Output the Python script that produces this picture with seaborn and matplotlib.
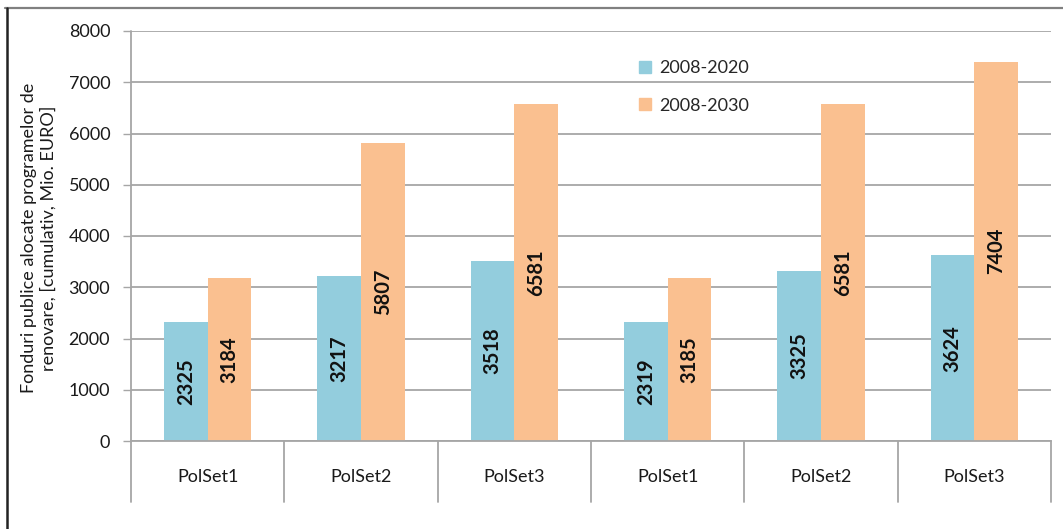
import matplotlib
matplotlib.use("Agg")
import matplotlib.pyplot as plt
from matplotlib.lines import Line2D
import matplotlib.transforms as mtransforms
import seaborn as sns
import pandas as pd

# Policy scenarios (two runs of three policy sets)
scenarios = ["PolSet1", "PolSet2", "PolSet3", "PolSet1", "PolSet2", "PolSet3"]
periods = ["2008-2020", "2008-2030"]
funds_2020 = [2325, 3217, 3518, 2319, 3325, 3624]
funds_2030 = [3184, 5807, 6581, 3185, 6581, 7404]
y_ticks = [0, 1000, 2000, 3000, 4000, 5000, 6000, 7000, 8000]
y_label = "Fonduri publice alocate programelor de\nrenovare, [cumulativ, Mio. EURO]"

colors = ["#93CDDD", "#FAC090"]
grid_grey = "#A6A6A6"
text_col = "#1a1a1a"
fs = 13

sns.set_theme(style="white")
plt.rcParams["font.family"] = ["Lato", "DejaVu Sans"]

rows = []
for i, (a, b) in enumerate(zip(funds_2020, funds_2030)):
    rows.append({"poz": str(i), "perioada": periods[0], "val": a})
    rows.append({"poz": str(i), "perioada": periods[1], "val": b})
df = pd.DataFrame(rows)

W, H = 1063, 529
fig = plt.figure(figsize=(W / 100, H / 100), dpi=100)
fig.patch.set_facecolor("white")
ax = fig.add_axes([131 / W, 1 - 441 / H, (1051 - 131) / W, (441 - 31) / H])

sns.barplot(data=df, x="poz", y="val", hue="perioada", hue_order=periods,
            palette=colors, width=0.57, saturation=1, edgecolor="none",
            linewidth=0, ax=ax)

ax.set_xlim(-0.5, 5.5)
ax.set_ylim(0, 8000)
ax.set_yticks(y_ticks)
ax.set_yticklabels([str(t) for t in y_ticks], fontsize=fs, color=text_col)
ax.set_xticks(range(len(scenarios)))
ax.set_xticklabels(scenarios, fontsize=fs, color=text_col)
ax.set_xlabel("")
ax.set_ylabel("")

ax.yaxis.grid(True, color=grid_grey, lw=1.3)
ax.set_axisbelow(True)
for s in ["top", "right", "left"]:
    ax.spines[s].set_visible(False)
ax.spines["bottom"].set_color(grid_grey)
ax.spines["bottom"].set_linewidth(1.3)

ax.tick_params(axis="y", direction="out", length=6, width=1, color=grid_grey,
               pad=9, left=True)
ax.tick_params(axis="x", length=0, pad=20)

# Category box lines below the axis
depth = -(502 - 441) / (441 - 31)
ax.add_line(Line2D([0, 0], [1, depth], transform=ax.transAxes,
                   color=grid_grey, lw=1.3, clip_on=False))
trans = mtransforms.blended_transform_factory(ax.transData, ax.transAxes)
for x in [0.5, 1.5, 2.5, 3.5, 4.5, 5.5]:
    ax.add_line(Line2D([x, x], [0, depth], transform=trans,
                       color=grid_grey, lw=1.3, clip_on=False))

# Value labels inside bars
for cont, vals in zip(ax.containers, [funds_2020, funds_2030]):
    ax.bar_label(cont, labels=[str(v) for v in vals], label_type="center",
                 rotation=90, fontsize=14.5, fontweight="bold", color="#111111")

# Legend
handles = [Line2D([], [], marker="s", linestyle="none", markersize=8,
                  markerfacecolor=c, markeredgecolor=c) for c in colors]
leg = ax.legend(handles, periods, loc="upper left",
                bbox_to_anchor=(629 / W, 1 - 51 / H),
                bbox_transform=fig.transFigure, frameon=False,
                fontsize=fs, handlelength=0.8, handletextpad=0.4,
                labelspacing=1.2, borderpad=0)

fig.text(39 / W, 1 - 238 / H, y_label, rotation=90, ha="center", va="center",
         fontsize=fs, color=text_col, linespacing=1.25)

# Page frame edges
fig.add_artist(Line2D([5 / W, 1], [1 - 8 / H, 1 - 8 / H], transform=fig.transFigure,
                      color="#808080", lw=1.6))
fig.add_artist(Line2D([6.5 / W, 6.5 / W], [0, 1 - 8 / H], transform=fig.transFigure,
                      color="#222222", lw=1.8))

fig.savefig("out.png", dpi=100)
